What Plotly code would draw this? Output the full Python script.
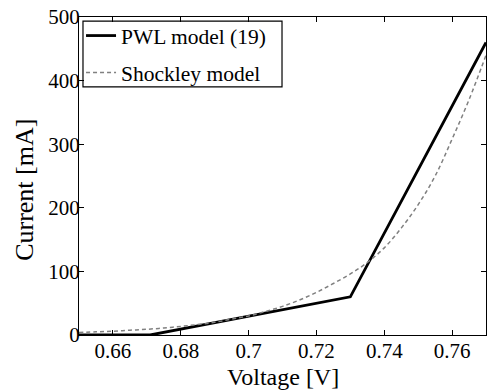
import plotly.graph_objects as go

# PWL model (19) breakpoints
pwl_v = [0.65, 0.671, 0.73, 0.77]
pwl_i = [0, 0, 60, 460]

# Shockley model samples
shock_v = [0.650, 0.655, 0.660, 0.665, 0.670, 0.675, 0.680, 0.685, 0.690, 0.695,
           0.700, 0.705, 0.710, 0.715, 0.720, 0.725, 0.730, 0.735, 0.740, 0.745,
           0.750, 0.755, 0.760, 0.765, 0.770]
shock_i = [4, 5, 6, 7.5, 9, 11, 13.5, 16.5, 20, 25,
           30, 37, 45, 55, 67, 81, 96, 114, 137, 168,
           205, 250, 308, 370, 440]

x_ticks = [0.66, 0.68, 0.70, 0.72, 0.74, 0.76]
x_tick_labels = ["0.66", "0.68", "0.7", "0.72", "0.74", "0.76"]
y_ticks = [0, 100, 200, 300, 400, 500]

x_title = "Voltage [V]"
y_title = "Current [mA]"

FONT = "Liberation Serif, Times New Roman, serif"

fig = go.Figure()
fig.add_trace(go.Scatter(x=pwl_v, y=pwl_i, mode="lines", name="PWL model (19)",
                         legendgroup="a",
                         line=dict(color="black", width=2.8)))
fig.add_trace(go.Scatter(x=shock_v, y=shock_i, mode="lines", name="Shockley model",
                         legendgroup="b", line_shape="spline",
                         line=dict(color="#808080", width=1.5, dash="4px,3px")))

axis_common = dict(showline=True, linecolor="black", linewidth=1.2, mirror="ticks",
                   ticks="inside", ticklen=5, tickwidth=1, tickcolor="black",
                   showgrid=False, zeroline=False, automargin=False,
                   tickfont=dict(family=FONT, size=21, color="black"))

fig.update_xaxes(range=[0.65, 0.77], tickvals=x_ticks, ticktext=x_tick_labels,
                 ticklabelstandoff=-3, **axis_common)
fig.update_yaxes(range=[0, 500], tickvals=y_ticks, ticklabelstandoff=-6,
                 **axis_common)

# legend frame (decoration)
fig.add_shape(type="rect", xref="paper", yref="paper",
              x0=0.0098, x1=0.4988, y0=0.780, y1=0.987,
              line=dict(color="black", width=1.2), fillcolor="white", layer="below")

fig.add_annotation(text=x_title, xref="paper", yref="paper", x=0.502, y=-0.177,
                   xanchor="center", yanchor="bottom", showarrow=False, borderpad=0,
                   font=dict(family=FONT, size=24, color="black"))
fig.add_annotation(text=y_title, xref="paper", yref="paper", x=-0.133, y=0.456,
                   xanchor="center", yanchor="middle", showarrow=False, textangle=-90,
                   font=dict(family=FONT, size=26, color="black"))

fig.update_layout(
    width=497, height=392,
    margin=dict(l=79, r=11, t=17, b=57, autoexpand=False),
    paper_bgcolor="white", plot_bgcolor="white",
    font=dict(family=FONT, color="black"),
    showlegend=True,
    legend=dict(x=0.005, y=1.006, xanchor="left", yanchor="top",
                bgcolor="rgba(0,0,0,0)", borderwidth=0,
                font=dict(family=FONT, size=21.5, color="black"),
                traceorder="grouped", tracegroupgap=6, itemwidth=30),
)

fig.write_html("out.html", config={"displayModeBar": False},
               post_script="document.body.style.margin='0';document.body.style.overflow='hidden';")
